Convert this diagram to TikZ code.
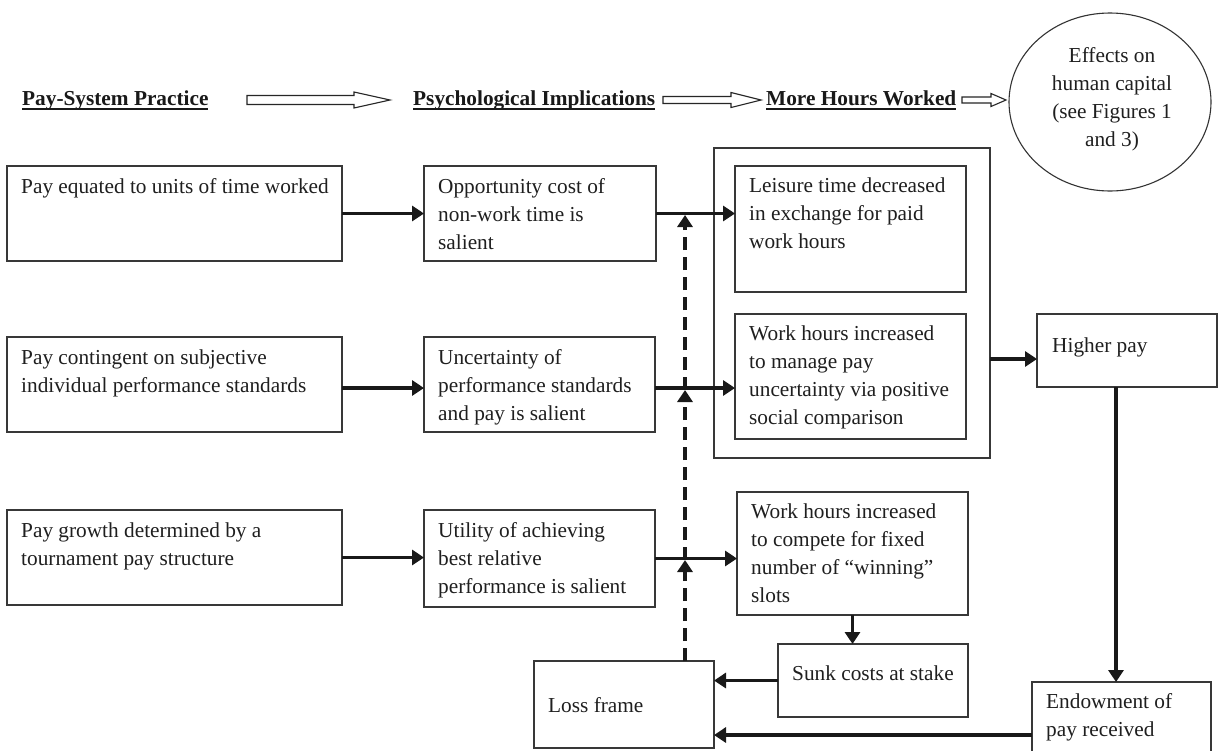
\documentclass[tikz,border=0pt]{standalone}
\usepackage{fontspec}
\setmainfont{Liberation Serif}
\usetikzlibrary{arrows.meta,shapes.geometric}
\newcommand\bodyfont{\fontsize{21.3}{28}\selectfont}
\newsavebox\hdrbox
\newcommand\ulhdr[1]{\sbox\hdrbox{#1}\usebox\hdrbox\kern-\wd\hdrbox\rule[-4.5pt]{\wd\hdrbox}{1.8pt}}
\begin{document}
\begin{tikzpicture}[x=1pt,y=-1pt,
  box/.style={draw=black!78, line width=1.3pt, anchor=north west, inner sep=0pt, outer sep=0pt},
  txt/.style={anchor=north west, inner sep=0pt, align=left, font=\bodyfont, text=black!88},
  hdr/.style={anchor=base west, inner sep=0pt, font=\bodyfont\bfseries, text=black!90},
  arr/.style={line width=3.4pt, draw=black!90, -{Triangle[length=12pt,width=15pt]}},
  dasharr/.style={arr, dash pattern=on 13pt off 7pt},
  hollow/.style={draw=black!85, line width=1.1pt, fill=white, line join=miter},
]
\path[use as bounding box, fill=white] (0,0) rectangle (1218,750);

% headers
\node[hdr] (h1) at (22,105) {\ulhdr{Pay-System Practice}};
\node[hdr] (h2) at (413,105) {\ulhdr{Psychological Implications}};
\node[hdr] (h3) at (766,105) {\ulhdr{More Hours Worked}};

% hollow header arrows
\draw[hollow] (247,95.5) -- (354,95.5) -- (354,92) -- (390,100) -- (354,108) -- (354,104.5) -- (247,104.5) -- cycle;
\draw[hollow] (663,96.5) -- (731,96.5) -- (731,92.5) -- (761,100) -- (731,107.5) -- (731,103.5) -- (663,103.5) -- cycle;
\draw[hollow] (962,97) -- (991,97) -- (991,93.5) -- (1006,100) -- (991,106.5) -- (991,103) -- (962,103) -- cycle;

% effects circle
\node[draw=black!80, line width=1.1pt, ellipse, minimum width=202pt, minimum height=178pt, inner sep=0pt] (eff) at (1110,102) {};
\node[anchor=north, inner sep=0pt, align=center, font=\bodyfont, text=black!88] (efft) at (1112,42.4) {\strut Effects on\\human capital\\(see Figures 1\\and 3)};

% column 1
\node[box, minimum width=335pt, minimum height=95pt] (a1) at (7,166) {};
\node[txt] (a1t) at (21,173.4) {\strut Pay equated to units of time worked};
\node[box, minimum width=335pt, minimum height=95pt] (a2) at (7,337) {};
\node[txt] (a2t) at (21,344.4) {\strut Pay contingent on subjective\\individual performance standards};
\node[box, minimum width=335pt, minimum height=95pt] (a3) at (7,510) {};
\node[txt] (a3t) at (21,517.4) {\strut Pay growth determined by a\\tournament pay structure};

% column 2
\node[box, minimum width=232pt, minimum height=95pt] (b1) at (424,166) {};
\node[txt] (b1t) at (438,173.4) {\strut Opportunity cost of\\non-work time is\\salient};
\node[box, minimum width=231pt, minimum height=95pt] (b2) at (424,337) {};
\node[txt] (b2t) at (438,344.4) {\strut Uncertainty of\\performance standards\\and pay is salient};
\node[box, minimum width=231pt, minimum height=97pt] (b3) at (424,510) {};
\node[txt] (b3t) at (438,517.4) {\strut Utility of achieving\\best relative\\performance is salient};

% column 3
\node[box, minimum width=276pt, minimum height=310pt] (out) at (714,148) {};
\node[box, minimum width=231pt, minimum height=126pt] (c1) at (735,166) {};
\node[txt] (c1t) at (749,172.4) {\strut Leisure time decreased\\in exchange for paid\\work hours};
\node[box, minimum width=231pt, minimum height=125pt] (c2) at (735,314) {};
\node[txt] (c2t) at (749,320.4) {\strut Work hours increased\\to manage pay\\uncertainty via positive\\social comparison};
\node[box, minimum width=231pt, minimum height=123pt] (c3) at (737,492) {};
\node[txt] (c3t) at (751,498.4) {\strut Work hours increased\\to compete for fixed\\number of “winning”\\slots};
\node[box, minimum width=190pt, minimum height=73pt] (d) at (778,644) {};
\node[txt] (dt) at (792,660.4) {\strut Sunk costs at stake};
\node[box, minimum width=180pt, minimum height=87pt] (loss) at (534,661) {};
\node[txt] (losst) at (548,692.4) {\strut Loss frame};

% column 4
\node[box, minimum width=180pt, minimum height=73pt] (hp) at (1037,314) {};
\node[txt] (hpt) at (1052,332.4) {\strut Higher pay};
\node[box, minimum width=179pt, minimum height=78pt] (en) at (1032,682) {};
\node[txt] (ent) at (1046,688.4) {\strut Endowment of\\pay received};

% solid arrows
\draw[arr] (a1.east) -- (a1.east -| b1.west);
\draw[arr] ([yshift=-3.5pt]a2.east) -- ([yshift=-3.5pt]a2.east -| b2.west);
\draw[arr] (a3.east) -- (a3.east -| b3.west);
\draw[arr] (b1.east) -- (b1.east -| c1.west);
\draw[arr] ([yshift=-3.5pt]b2.east) -- ([yshift=-3.5pt]b2.east -| c2.west);
\draw[arr] (b3.east) -- (b3.east -| c3.west);
\draw[arr] ([yshift=-56pt]out.east) -- ([yshift=-56pt]out.east -| hp.west);
\draw[arr] ([xshift=-11pt]hp.south) -- ([xshift=-11pt]hp.south |- en.north);
\draw[arr] (c3.south) -- (c3.south |- d.north);
\draw[arr] (d.west) -- (d.west -| loss.east);
\draw[arr] ([yshift=-14pt]en.west) -- ([yshift=-14pt]en.west -| loss.east);

% dashed feedback
\coordinate (k1) at (685,215);
\coordinate (k2) at (685,390);
\coordinate (k3) at (685,560);
\draw[dasharr] (k3 |- loss.north) -- (k3);
\draw[dasharr] (k3) -- (k2);
\draw[dasharr] (k2) -- (k1);
\end{tikzpicture}
\end{document}
